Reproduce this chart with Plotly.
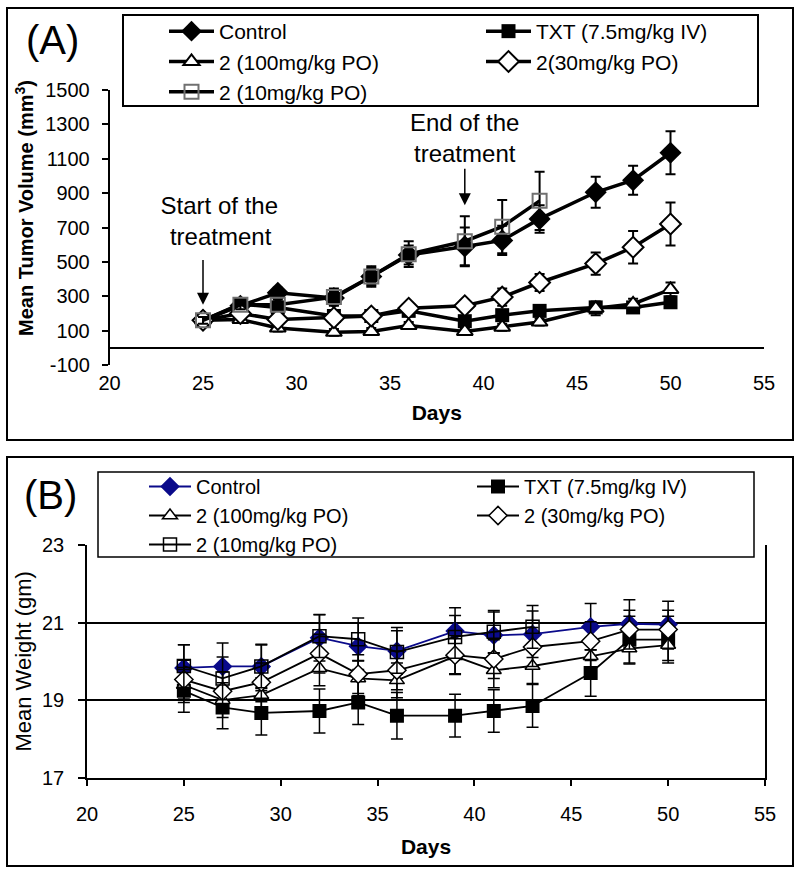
import plotly.graph_objects as go

# ---------------- data ----------------
days = [25, 27, 29, 32, 34, 36, 39, 41, 43, 46, 48, 50]
days_10 = [25, 27, 29, 32, 34, 36, 39, 41, 43]

# Panel A: mean tumor volume (mm3)
vol_control = [160, 245, 320, 290, 415, 540, 590, 625, 750, 905, 975, 1135]
vol_txt = [160, 255, 235, 185, 185, 215, 155, 190, 215, 235, 235, 265]
vol_100 = [160, 165, 115, 90, 95, 130, 95, 120, 150, 230, 255, 340]
vol_30 = [160, 200, 165, 175, 185, 230, 245, 295, 380, 490, 585, 720]
vol_10 = [160, 250, 250, 295, 415, 545, 620, 705, 855]

err_vol_control = [20, 25, 30, 40, 50, 55, 110, 85, 80, 90, 85, 125]
err_vol_txt = [20, 25, 30, 25, 25, 30, 30, 25, 25, 30, 25, 30]
err_vol_100 = [20, 20, 20, 20, 20, 20, 20, 20, 20, 40, 30, 40]
err_vol_30 = [20, 20, 20, 25, 25, 30, 30, 50, 50, 65, 95, 125]
err_vol_10 = [20, 25, 30, 50, 60, 75, 145, 155, 170]

# Panel B: mean body weight (gm)
w_control = [19.83, 19.87, 19.87, 20.61, 20.39, 20.27, 20.78, 20.67, 20.70, 20.89, 20.97, 20.95]
w_txt = [19.24, 18.81, 18.67, 18.72, 18.94, 18.60, 18.60, 18.72, 18.85, 19.70, 20.56, 20.56]
w_100 = [19.39, 19.00, 19.13, 19.82, 19.56, 19.51, 20.13, 19.77, 19.88, 20.13, 20.33, 20.42]
w_30 = [19.53, 19.23, 19.46, 20.20, 19.67, 19.77, 20.16, 20.06, 20.37, 20.52, 20.82, 20.82]
w_10 = [19.88, 19.56, 19.87, 20.65, 20.57, 20.24, 20.63, 20.76, 20.89]

err_w_control = [0.6, 0.6, 0.57, 0.6, 0.6, 0.6, 0.6, 0.6, 0.6, 0.6, 0.62, 0.6]
err_w_txt = [0.55, 0.55, 0.57, 0.57, 0.57, 0.6, 0.55, 0.55, 0.55, 0.6, 0.6, 0.6]
err_w_100 = [0.45, 0.45, 0.45, 0.45, 0.45, 0.45, 0.45, 0.45, 0.45, 0.45, 0.4, 0.4]
err_w_30 = [0.5, 0.5, 0.5, 0.5, 0.5, 0.5, 0.5, 0.5, 0.5, 0.5, 0.5, 0.5]
err_w_10 = [0.55, 0.55, 0.55, 0.55, 0.55, 0.55, 0.55, 0.55, 0.55]

x_ticks = [20, 25, 30, 35, 40, 45, 50, 55]
y_ticks_a = [-100, 100, 300, 500, 700, 900, 1100, 1300, 1500]
y_ticktext_a = ["-100", "100", "300", "500", "700", "900", "1100", "1300", "1500"]
grid_a = [100, 300, 500, 700, 900, 1100, 1300, 1500]
y_ticks_b = [17, 19, 21, 23]

names_a = ["Control", "TXT (7.5mg/kg IV)", "2 (100mg/kg PO)", "2(30mg/kg PO)", "2 (10mg/kg PO)"]
names_b = ["Control", "TXT (7.5mg/kg IV)", "2 (100mg/kg PO)", "2 (30mg/kg PO)", "2 (10mg/kg PO)"]

FONT = "Liberation Sans, Arial, sans-serif"
W, H = 800, 877


def px_x(p):
    return p / W


def px_y(p):
    return 1 - p / H


fig = go.Figure()


def err(arr, thick, width):
    return dict(type="data", array=arr, visible=True, color="black", thickness=thick, width=width)


# ---------------- panel A traces ----------------
lw_a = 3.5
fig.add_trace(go.Scatter(x=days, y=vol_control, name=names_a[0], mode="lines+markers",
                         line=dict(color="black", width=lw_a),
                         marker=dict(symbol="diamond", size=17, color="black"),
                         error_y=err(err_vol_control, 2, 5), xaxis="x", yaxis="y", legend="legend"))
fig.add_trace(go.Scatter(x=days, y=vol_txt, name=names_a[1], mode="lines+markers",
                         line=dict(color="black", width=lw_a),
                         marker=dict(symbol="square", size=14, color="black"),
                         error_y=err(err_vol_txt, 2, 5), xaxis="x", yaxis="y", legend="legend3"))
fig.add_trace(go.Scatter(x=days, y=vol_100, name=names_a[2], mode="lines+markers",
                         line=dict(color="black", width=lw_a),
                         marker=dict(symbol="triangle-up", size=14, color="white",
                                     line=dict(color="black", width=2)),
                         error_y=err(err_vol_100, 2, 5), xaxis="x", yaxis="y", legend="legend"))
fig.add_trace(go.Scatter(x=days, y=vol_30, name=names_a[3], mode="lines+markers",
                         line=dict(color="black", width=lw_a),
                         marker=dict(symbol="diamond", size=16, color="white",
                                     line=dict(color="black", width=2)),
                         error_y=err(err_vol_30, 2, 5), xaxis="x", yaxis="y", legend="legend3"))
fig.add_trace(go.Scatter(x=days_10, y=vol_10, name=names_a[4], mode="lines+markers",
                         line=dict(color="black", width=lw_a),
                         marker=dict(symbol="square-open", size=14, color="#707070",
                                     line=dict(color="#707070", width=2)),
                         error_y=err(err_vol_10, 2, 5), xaxis="x", yaxis="y", legend="legend"))

# ---------------- panel B traces ----------------
lw_b = 1.8
fig.add_trace(go.Scatter(x=days, y=w_control, name=names_b[0], mode="lines+markers",
                         line=dict(color="#0A0A8A", width=lw_b),
                         marker=dict(symbol="diamond", size=15, color="#0A0A8A"),
                         error_y=err(err_w_control, 1.5, 6), xaxis="x2", yaxis="y2", legend="legend2"))
fig.add_trace(go.Scatter(x=days, y=w_txt, name=names_b[1], mode="lines+markers",
                         line=dict(color="black", width=lw_b),
                         marker=dict(symbol="square", size=14, color="black"),
                         error_y=err(err_w_txt, 1.5, 6), xaxis="x2", yaxis="y2", legend="legend4"))
fig.add_trace(go.Scatter(x=days, y=w_100, name=names_b[2], mode="lines+markers",
                         line=dict(color="black", width=lw_b),
                         marker=dict(symbol="triangle-up", size=13, color="white",
                                     line=dict(color="black", width=1.5)),
                         error_y=err(err_w_100, 1.5, 6), xaxis="x2", yaxis="y2", legend="legend2"))
fig.add_trace(go.Scatter(x=days, y=w_30, name=names_b[3], mode="lines+markers",
                         line=dict(color="black", width=lw_b),
                         marker=dict(symbol="diamond", size=14, color="white",
                                     line=dict(color="black", width=1.5)),
                         error_y=err(err_w_30, 1.5, 6), xaxis="x2", yaxis="y2", legend="legend4"))
fig.add_trace(go.Scatter(x=days_10, y=w_10, name=names_b[4], mode="lines+markers",
                         line=dict(color="black", width=lw_b),
                         marker=dict(symbol="square-open", size=13, color="black",
                                     line=dict(color="black", width=1.5)),
                         error_y=err(err_w_10, 1.5, 6), xaxis="x2", yaxis="y2", legend="legend2"))

# ---------------- geometry ----------------
xa = [px_x(109.5), px_x(764)]
ya = [px_y(365), px_y(90)]
xb = [px_x(87), px_x(765)]
yb = [px_y(777.7), px_y(545)]
zero_pos = ya[0] + (0 - (-100)) / 1600 * (ya[1] - ya[0])

tickfont = dict(family=FONT, size=20, color="black")


def leg(xp, yp, size, iw):
    return dict(x=px_x(xp), y=px_y(yp), xanchor="left", yanchor="top", orientation="v",
                itemwidth=iw, traceorder="normal", bgcolor="rgba(0,0,0,0)", borderwidth=0,
                font=dict(family=FONT, size=size, color="black"))


fig.update_layout(
    width=W, height=H,
    margin=dict(l=0, r=0, t=0, b=0, autoexpand=False),
    paper_bgcolor="white", plot_bgcolor="white",
    font=dict(family=FONT, color="black"),
    showlegend=True,
    # ---- panel A axes ----
    xaxis=dict(domain=xa, anchor="y", range=[20, 55], tickvals=x_ticks, ticks="",
               showline=False, showgrid=False, zeroline=False, tickfont=tickfont,
               ticklabelstandoff=4, automargin=False,
               title=dict(text="Days", font=dict(family=FONT, size=21, weight="bold"), standoff=12)),
    yaxis=dict(domain=ya, anchor="x", range=[-100, 1500], tickvals=y_ticks_a, ticktext=y_ticktext_a,
               ticks="outside", ticklen=6, tickwidth=1.5, tickcolor="black",
               showline=True, linewidth=1.5, linecolor="black", showgrid=False,
               zeroline=True, zerolinecolor="black", zerolinewidth=1.5,
               tickfont=tickfont, ticklabelstandoff=8, automargin=False),
    xaxis3=dict(overlaying="x", matches="x", anchor="free", position=zero_pos, side="bottom",
                tickvals=x_ticks, ticks="outside", ticklen=8, tickwidth=1.5, tickcolor="black",
                showticklabels=False, showline=False, showgrid=False, zeroline=False,
                automargin=False),
    yaxis3=dict(overlaying="y", matches="y", anchor="x", tickvals=grid_a, ticks="",
                showticklabels=False, showline=False, showgrid=True, gridcolor="black",
                gridwidth=1.5, zeroline=False, automargin=False),
    # ---- panel B axes ----
    xaxis2=dict(domain=xb, anchor="y2", range=[20, 55], tickvals=x_ticks, ticks="outside",
                ticklen=7, tickwidth=1.5, tickcolor="black", showline=True, linewidth=1.5,
                linecolor="black", showgrid=False, zeroline=False, tickfont=tickfont,
                ticklabelstandoff=11, automargin=False,
                title=dict(text="Days", font=dict(family=FONT, size=21, weight="bold"), standoff=15)),
    yaxis2=dict(domain=yb, anchor="x2", range=[17, 23], tickvals=y_ticks_b,
                ticks="outside", ticklen=7, tickwidth=1.5, tickcolor="black",
                showline=True, mirror=True, linewidth=1.5, linecolor="black",
                showgrid=True, gridcolor="black", gridwidth=1.5, zeroline=False,
                tickfont=tickfont, ticklabelstandoff=10, automargin=False,
                title=dict(text="Mean Weight (gm)", font=dict(family=FONT, size=22), standoff=4)),
    legend=leg(164, 11, 21, 45),
    legend3=leg(481, 11, 21, 45),
    legend2=leg(144, 467, 20, 42),
    legend4=leg(472, 467, 20, 42),
)

# Legend boxes (white, drawn above the grid, beneath the legend entries)
fig.add_shape(type="rect", xref="paper", yref="paper", x0=px_x(123), x1=px_x(758),
              y0=px_y(106), y1=px_y(15), line=dict(color="black", width=2),
              fillcolor="white", layer="above")
fig.add_shape(type="rect", xref="paper", yref="paper", x0=px_x(98), x1=px_x(754),
              y0=px_y(557), y1=px_y(472), line=dict(color="black", width=1.5),
              fillcolor="white", layer="above")

# Panel frames
fig.add_shape(type="rect", xref="paper", yref="paper", x0=px_x(7), x1=px_x(793),
              y0=px_y(440), y1=px_y(8), line=dict(color="black", width=2), layer="below")
fig.add_shape(type="rect", xref="paper", yref="paper", x0=px_x(7), x1=px_x(793),
              y0=px_y(866), y1=px_y(457), line=dict(color="black", width=2), layer="below")

# Annotations
fig.add_annotation(text="(A)", xref="paper", yref="paper", x=px_x(52), y=px_y(40),
                   xanchor="center", yanchor="middle",
                   showarrow=False, font=dict(family=FONT, size=40, color="black"))
fig.add_annotation(text="(B)", xref="paper", yref="paper", x=px_x(50), y=px_y(495),
                   xanchor="center", yanchor="middle",
                   showarrow=False, font=dict(family=FONT, size=40, color="black"))
fig.add_annotation(text="Mean Tumor Volume (mm<sup>3</sup>)", xref="paper", yref="paper",
                   x=px_x(25), y=px_y(208), textangle=-90, showarrow=False,
                   xanchor="center", yanchor="middle",
                   font=dict(family=FONT, size=20, color="black", weight="bold"))

# treatment start / end call-outs: text with arrow pointing down to the curves
fig.add_annotation(text="Start of the<br>treatment\u00a0", xref="x", yref="y", x=25, y=250,
                   axref="x", ayref="y", ax=25, ay=735, width=150, align="right",
                   showarrow=True, arrowhead=2, arrowsize=1.6, arrowwidth=1.5,
                   arrowcolor="black", startstandoff=8,
                   font=dict(family=FONT, size=24, color="black"))
fig.add_annotation(text="End of the<br>treatment", xref="x", yref="y", x=39, y=830,
                   axref="x", ayref="y", ax=39, ay=1220, align="center",
                   showarrow=True, arrowhead=2, arrowsize=1.6, arrowwidth=1.5,
                   arrowcolor="black", startstandoff=0,
                   font=dict(family=FONT, size=24, color="black"))

fig.write_html("out.html", config={"displayModeBar": False},
               post_script="document.body.style.margin='0';")
